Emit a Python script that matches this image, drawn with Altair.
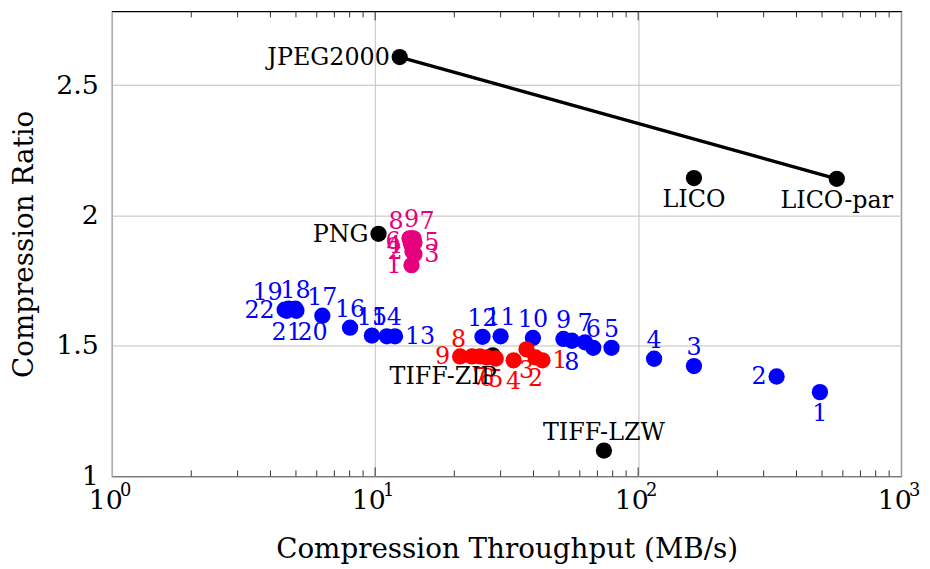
import altair as alt
import pandas as pd

FONT = "DejaVu Serif"

# ---- black reference codecs ----
black_names = ["JPEG2000", "LICO", "LICO-par", "PNG", "TIFF-ZIP", "TIFF-LZW"]
black_x = [12.4, 163.0, 569.0, 10.3, 28.0, 74.1]
black_y = [2.608, 2.144, 2.141, 1.930, 1.464, 1.099]
black_pos = ["left", "below", "below", "left", "below left", "above"]

# ---- blue series (1..22) ----
blue_x = [491, 336, 163, 115, 79.2, 67.5, 62.8, 56.0, 52.0, 39.8, 30.0, 25.6,
          11.9, 11.07, 9.72, 8.03, 6.30, 4.98, 4.69, 5.02, 4.61, 4.53]
blue_y = [1.323, 1.383, 1.423, 1.451, 1.493, 1.493, 1.514, 1.520, 1.527, 1.531,
          1.537, 1.535, 1.537, 1.537, 1.540, 1.570, 1.616, 1.643, 1.643, 1.635,
          1.635, 1.639]
blue_pos = ["below", "left", "above", "above", "above", "above", "above", "below",
            "above", "above", "above", "above", "right", "above", "above", "above",
            "above", "above", "above left", "below right", "below", "left"]

# ---- red series (1..9) ----
red_x = [43.25, 40.70, 37.63, 33.62, 28.75, 26.60, 25.02, 23.35, 21.04]
red_y = [1.445, 1.456, 1.487, 1.445, 1.452, 1.456, 1.460, 1.460, 1.460]
red_pos = ["right", "below", "below", "below", "below", "below", "below",
           "above left", "left"]

# ---- magenta series (1..9) ----
pink_x = [13.75, 13.87, 14.11, 13.75, 14.11, 13.63, 13.99, 13.51, 13.75]
pink_y = [1.810, 1.863, 1.852, 1.886, 1.897, 1.901, 1.913, 1.913, 1.913]
pink_pos = ["left", "left", "right", "left", "right", "left", "above right",
            "above left", "above"]

# ---- Pareto line ----
front_x = [12.4, 569.0]
front_y = [2.608, 2.141]

# ---- axis ticks ----
x_major = [1, 10, 100, 1000]
x_exp = ["0", "1", "2", "3"]
x_minor = [2, 3, 4, 5, 6, 7, 8, 9, 20, 30, 40, 50, 60, 70, 80, 90,
           200, 300, 400, 500, 600, 700, 800, 900]
x_inner_major = [10, 100]
y_major = [1, 1.5, 2, 2.5]

series_names = ["black", "blue", "red", "pink"]
series_colors = ["#000000", "#0000FF", "#FF0000", "#E6007E"]

rows = []
groups = [
    ("black", black_x, black_y, black_names, black_pos),
    ("blue", blue_x, blue_y, [str(i + 1) for i in range(len(blue_x))], blue_pos),
    ("red", red_x, red_y, [str(i + 1) for i in range(len(red_x))], red_pos),
    ("pink", pink_x, pink_y, [str(i + 1) for i in range(len(pink_x))], pink_pos),
]
for s, xs, ys, labs, poss in groups:
    for xv, yv, lb, ps in zip(xs, ys, labs, poss):
        rows.append({"x": xv, "y": yv, "lab": lb, "series": s, "pos": ps})
pts = pd.DataFrame(rows)
front_df = pd.DataFrame({"x": front_x, "y": front_y})
minor_df = pd.DataFrame({"x": x_minor})
major_df = pd.DataFrame({"x": x_inner_major})
exp_df = pd.DataFrame({"x": x_major, "e": x_exp})

W, H = 796, 469
AX = 27      # tick label size
TT = 28      # axis title size
LB = 24      # point label size

X = alt.X(
    "x:Q",
    scale=alt.Scale(type="log", domain=[1, 1000], nice=False),
    axis=alt.Axis(
        values=x_major, labelExpr="'10'", labelOffset=-7, labelPadding=32,
        labelBaseline="alphabetic", labelFont=FONT, labelFontSize=AX,
        labelColor="black", labelFlush=False, labelOverlap=False, labelBound=False,
        ticks=False, tickSize=0, domain=False, grid=True, gridColor="#c0c0c0",
        gridWidth=1, title="Compression Throughput (MB/s)", titleFont=FONT,
        titleFontSize=TT, titleFontWeight="normal", titleColor="black",
        titleX=W / 2, titleY=82, titleBaseline="alphabetic", titleAlign="center",
    ),
)
Y = alt.Y(
    "y:Q",
    scale=alt.Scale(domain=[1, 2.783], nice=False, zero=False),
    axis=alt.Axis(
        values=y_major, format="~g", labelFont=FONT, labelFontSize=AX,
        labelPadding=14, labelColor="black", labelFlush=False, labelOverlap=False,
        labelBaseline="middle",
        ticks=False, tickSize=0, domain=False, grid=True, gridColor="#c0c0c0",
        gridWidth=1, title="Compression Ratio", titleFont=FONT, titleFontSize=TT,
        titleFontWeight="normal", titleColor="black", titleX=-80, titleY=H / 2,
        titleBaseline="alphabetic", titleAlign="center",
    ),
)
C = alt.Color("series:N", scale=alt.Scale(domain=series_names, range=series_colors),
              legend=None)

minor_bot = alt.Chart(minor_df).mark_rule(color="black", strokeWidth=0.8).encode(
    x=X, y=alt.value(H), y2=alt.value(H - 6))
minor_top = alt.Chart(minor_df).mark_rule(color="black", strokeWidth=0.8).encode(
    x=X, y=alt.value(0), y2=alt.value(6))
major_bot = alt.Chart(major_df).mark_rule(color="black", strokeWidth=0.8).encode(
    x=X, y=alt.value(H), y2=alt.value(H - 9))
major_top = alt.Chart(major_df).mark_rule(color="black", strokeWidth=0.8).encode(
    x=X, y=alt.value(0), y2=alt.value(9))

line = alt.Chart(front_df).mark_line(color="black", strokeWidth=3.5).encode(x=X, y=Y)
points = alt.Chart(pts).mark_circle(size=270, opacity=1).encode(x=X, y=Y, color=C)

pos_spec = {
    "above": ("center", 0, -11),
    "below": ("center", 0, 29),
    "left": ("right", -10, 8),
    "right": ("left", 10, 8),
    "above left": ("right", -6, -9),
    "above right": ("left", 6, -9),
    "below left": ("right", 4, 29),
    "below right": ("left", 1, 29),
}
label_layers = []
for p, (al, dx, dy) in pos_spec.items():
    label_layers.append(
        alt.Chart(pts).transform_filter(alt.datum.pos == p).mark_text(
            align=al, baseline="alphabetic", dx=dx, dy=dy, font=FONT, fontSize=LB
        ).encode(x=X, y=Y, text="lab:N", color=C)
    )

exps = alt.Chart(exp_df).mark_text(
    align="left", baseline="alphabetic", dx=8, font=FONT, fontSize=18, color="black"
).encode(x=X, y=alt.value(H + 20), text="e:N")

chart = alt.layer(
    minor_bot, minor_top, major_bot, major_top, line, points, *label_layers, exps
).properties(
    width=W, height=H,
    autosize=alt.AutoSizeParams(type="none"),
    padding={"left": 105, "top": 1, "right": 21, "bottom": 90},
).configure_view(stroke="black", strokeWidth=1.2)

chart.save("out.html", embed_options={"renderer": "svg", "actions": False})
